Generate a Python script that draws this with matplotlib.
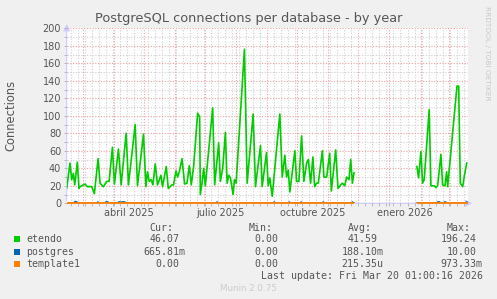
import datetime as dt
import numpy as np
import matplotlib
matplotlib.use('Agg')
import matplotlib.pyplot as plt
import matplotlib.dates as mdates
import matplotlib.transforms as mtransforms
from matplotlib.patches import Rectangle

# data (days after the start of the 400-day window)
start = dt.datetime(2025, 2, 13, 1, 0)
end = dt.datetime(2026, 3, 20, 1, 0)

etendo_days = [0, 3.3, 5, 6.6, 8, 10.6, 12.3, 13.3, 16.6, 18.3, 20.6, 25, 27.6, 31.3, 33.3, 36.6,
               40, 42.3, 45.6, 47.6, 51.6, 54.3, 59.3, 61.6, 68.3, 70.6, 76.6, 79, 80.6, 82.3,
               84.3, 86, 88.3, 90.6, 94, 95.6, 99.3, 101.3, 105, 106.6, 109, 110.6, 112.3, 115,
               117.6, 120, 122.3, 124.3, 126.6, 130.6, 132.6, 133.3, 135, 136.6, 138.3, 145.6,
               147.6, 151.6, 153.3, 155.6, 158.3, 160, 161.6, 163.3, 166, 167.3, 169, 177.3,
               180, 186, 188.3, 193.3, 195, 199.3, 201, 202.6, 205, 212.6, 215, 217.6, 219.3,
               221, 222.6, 227.6, 229.3, 231.6, 234.3, 236.6, 239.3, 241, 243.3, 245.6, 247.3,
               249.3, 251, 255, 256.6, 259.3, 262.3, 264, 268.3, 270.6, 272.6, 275, 277.3,
               279.3, 281.6, 283.3, 285, 286.6, 287.5, 349.3, 351, 353.3, 355, 356.6, 361.6,
               363.3, 366.6, 368.3, 370, 373.3, 375, 377.3, 379, 380, 389.3, 391, 392.6, 395,
               396.6, 399]
etendo = [17, 46, 27, 34, 21, 47, 17, 19, 21, 22, 19, 19, 11, 51, 23, 19,
          25, 25, 64, 22, 62, 21, 80, 21, 90, 20, 79, 19, 36, 25,
          27, 21, 45, 21, 32, 19, 42, 17, 21, 21, 37, 30, 36, 51,
          22, 23, 43, 21, 42, 103, 99, 10, 23, 40, 20, 109,
          21, 69, 25, 40, 81, 23, 32, 29, 10, 27, 23, 176,
          23, 102, 19, 66, 19, 58, 20, 29, 8, 102, 30, 55, 30,
          38, 13, 60, 25, 25, 77, 25, 46, 50, 23, 53, 19,
          23, 23, 60, 30, 30, 57, 14, 61, 17, 20, 23, 20,
          30, 27, 50, 23, 35, np.nan, 42, 29, 59, 23, 27, 107,
          20, 20, 18, 20, 56, 21, 20, 36, 19, 134, 134, 23, 19,
          31, 46]

postgres_days = [0, 7, 8.5, 10, 11, 30, 31, 32, 38, 39, 41, 42, 51, 52, 54, 56, 58, 59,
                 149, 150, 151, 206, 207, 208, 221, 222, 223, 233, 234, 235, 255, 256, 257,
                 284, 285, 286, 287, 287.5, 349, 369, 370, 372, 373, 376, 377, 378, 379,
                 398, 399, 400]
postgres = [0, 0, 2, 1.5, 0, 0, 1.5, 0, 0, 1.5, 1.5, 0, 0, 1.5, 1.2, 1.5, 1.5, 0,
            0, 1.5, 0, 0, 1.5, 0, 0, 1.5, 0, 0, 1.5, 0, 0, 1.5, 0,
            0, 1.5, 0, 0, np.nan, 0, 0, 1.5, 1.5, 0, 0, 1.5, 1.5, 0,
            0, 1.5, 1]

template1_days = [0, 287, 287.5, 349, 400]
template1 = [0, 0, np.nan, 0, 0]

legend_rows = [
    ('etendo', '#00cc00', '46.07', '0.00', '41.59', '196.24'),
    ('postgres', '#0066b3', '665.81m', '0.00', '188.10m', '10.00'),
    ('template1', '#ff8000', '0.00', '0.00', '215.35u', '973.33m'),
]
month_labels = [(dt.datetime(2025, 4, 16), 'abril 2025'), (dt.datetime(2025, 7, 16), 'julio 2025'),
                (dt.datetime(2025, 10, 16), 'octubre 2025'), (dt.datetime(2026, 1, 16), 'enero 2026')]


def to_dates(days):
    return [start + dt.timedelta(days=d) for d in days]


W, H = 497, 299
fx = lambda px: px / W
fy = lambda py: 1 - py / H
txt = '#555555'

fig = plt.figure(figsize=(W / 100, H / 100), dpi=100, facecolor='#f0f0f0')
ax = fig.add_axes([fx(66.7), fy(203.3), 401 / W, 175 / H])
ax.set_facecolor('white')

ax.plot(to_dates(etendo_days), etendo, color='#00cc00', lw=1.2, zorder=3)
ax.plot(to_dates(postgres_days), postgres, color='#0066b3', lw=1.2, zorder=4)
ax.plot(to_dates(template1_days), template1, color='#ff8000', lw=1.3, zorder=5,
        clip_on=False, solid_capstyle='butt')

ax.set_xlim(start, end)
ax.set_ylim(0, 200)
ax.yaxis.set_major_locator(plt.MultipleLocator(20))
ax.yaxis.set_minor_locator(plt.MultipleLocator(10))
ax.xaxis.set_major_locator(mdates.MonthLocator())
ax.xaxis.set_minor_locator(mdates.WeekdayLocator(byweekday=mdates.MO))
ax.xaxis.set_major_formatter(plt.NullFormatter())

dots = (0, (1, 1.5))
ax.grid(which='minor', color='#d0d0d0', linestyle=dots, lw=0.8)
ax.grid(which='major', color='#f0a0a0', linestyle=dots, lw=0.8)
ax.set_axisbelow(True)

ax.tick_params(which='both', length=2, width=0.6, color='#b0b0b0', labelsize=7, labelcolor=txt, pad=2)
for s in ax.spines.values():
    s.set_visible(False)

# axis lines with arrows
arrow = dict(arrowstyle='-|>,head_length=0.4,head_width=0.2', color='#ccccff', lw=0.8)
ax.annotate('', xy=(0, 1.04), xytext=(0, 0), xycoords='axes fraction',
            arrowprops=arrow, annotation_clip=False, zorder=0)
ax.annotate('', xy=(1.018, 0), xytext=(0, 0), xycoords='axes fraction',
            arrowprops=arrow, annotation_clip=False, zorder=0)

lab_tr = mtransforms.blended_transform_factory(ax.transData, fig.transFigure)
for d, lab in month_labels:
    ax.text(d, fy(212.5), lab, transform=lab_tr, fontsize=7, color=txt,
            ha='center', va='center')

fig.text(fx(248.5), fy(18.5), 'PostgreSQL connections per database - by year',
         fontsize=9.3, color=txt, ha='center', va='center')
fig.text(fx(10.5), fy(115), 'Connections', rotation=90, fontsize=8.3, color=txt,
         ha='center', va='center')
fig.text(fx(487), fy(53), 'RRDTOOL / TOBI OETIKER', rotation=270, fontsize=5.3,
         color='#c8c8c8', ha='center', va='center')

# legend table
mono = dict(family='DejaVu Sans Mono', fontsize=7.15, color=txt, va='center')
col_right = [185.3, 284.3, 383.3, 482.7]
cw = 5.97
for r, head in zip(col_right, ['Cur:', 'Min:', 'Avg:', 'Max:']):
    fig.text(fx(r - 2 * cw), fy(228.3), head, ha='right', **mono)
row_y = [239.3, 251.7, 264]
for y, (name, color, *vals) in zip(row_y, legend_rows):
    fig.patches.append(Rectangle((fx(14), fy(y + 3)), 6 / W, 6 / H, transform=fig.transFigure,
                                 facecolor=color, edgecolor='none'))
    fig.text(fx(26), fy(y), name, ha='left', **mono)
    for r, v in zip(col_right, vals):
        right = r if v[-1].isalpha() else r - cw
        fig.text(fx(right), fy(y), v, ha='right', **mono)
fig.text(fx(482.7), fy(275.7), 'Last update: Fri Mar 20 01:00:16 2026', ha='right', **mono)
fig.text(fx(248), fy(288.3), 'Munin 2.0.75', fontsize=6.3, color='#cccccc', ha='center', va='center')

fig.savefig('out.png', dpi=100, facecolor=fig.get_facecolor())
